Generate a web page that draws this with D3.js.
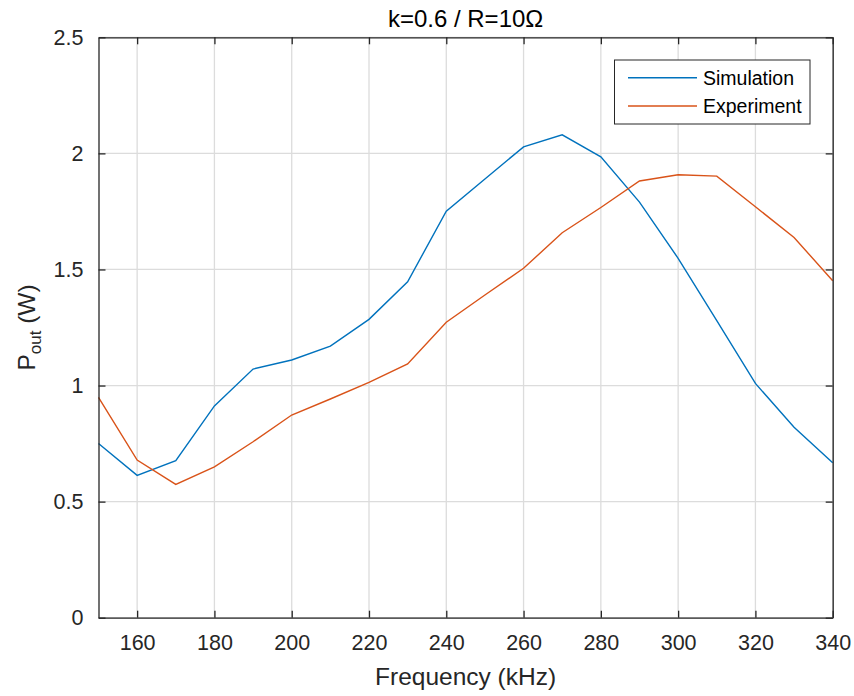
<!DOCTYPE html>
<html><head><meta charset="utf-8">
<script src="https://cdn.jsdelivr.net/npm/d3@7"></script>
<style>body{margin:0;background:#fff;} text{font-family:"Liberation Sans",Arial,sans-serif;}</style>
</head><body><svg id="c" width="854" height="696"></svg>
<script>
const freq = [150,160,170,180,190,200,210,220,230,240,250,260,270,280,290,300,310,320,330,340];
const simulation = [0.75,0.613,0.676,0.912,1.071,1.110,1.170,1.285,1.447,1.751,1.89,2.028,2.08,1.985,1.79,1.548,1.28,1.009,0.82,0.667];
const experiment = [0.949,0.679,0.574,0.650,0.758,0.873,0.942,1.014,1.093,1.273,1.39,1.505,1.658,1.767,1.881,1.908,1.902,1.77,1.638,1.451];
const xTicks = [160,180,200,220,240,260,280,300,320,340];
const yTicks = [0,0.5,1,1.5,2,2.5];
const seriesNames = ["Simulation","Experiment"];
const colors = ["#0072BD","#D95319"];

const svg = d3.select("#c");
const L=98.5, R=832.7, T=37.3, B=617.7;
const x = d3.scaleLinear().domain([150,340]).range([L,R]);
const y = d3.scaleLinear().domain([0,2.5]).range([B,T]);
const axCol="#262626";

// grid
svg.append("g").selectAll("line").data(xTicks).join("line")
  .attr("x1",d=>x(d)).attr("x2",d=>x(d)).attr("y1",T).attr("y2",B)
  .attr("stroke","#dcdcdc").attr("stroke-width",1.3);
svg.append("g").selectAll("line").data(yTicks).join("line")
  .attr("y1",d=>y(d)).attr("y2",d=>y(d)).attr("x1",L).attr("x2",R)
  .attr("stroke","#dcdcdc").attr("stroke-width",1.3);

// lines
const line = d3.line().x((d,i)=>x(freq[i])).y(d=>y(d));
[simulation,experiment].forEach((s,k)=>{
  svg.append("path").datum(s).attr("d",line).attr("fill","none")
    .attr("stroke",colors[k]).attr("stroke-width",1.4);
});

// axes
const fs = "21.5px";
const xb = svg.append("g").attr("transform",`translate(0,${B})`)
  .call(d3.axisBottom(x).tickValues(xTicks).tickSizeInner(-7).tickSizeOuter(0).tickPadding(17));
const xt = svg.append("g").attr("transform",`translate(0,${T})`)
  .call(d3.axisTop(x).tickValues(xTicks).tickSizeInner(-7).tickSizeOuter(0).tickFormat(""));
const yl = svg.append("g").attr("transform",`translate(${L},0)`)
  .call(d3.axisLeft(y).tickValues(yTicks).tickSizeInner(-7).tickSizeOuter(0).tickPadding(15).tickFormat(d3.format("")));
const yr = svg.append("g").attr("transform",`translate(${R},0)`)
  .call(d3.axisRight(y).tickValues(yTicks).tickSizeInner(-7).tickSizeOuter(0).tickFormat(""));
[xb,xt,yl,yr].forEach(g=>{
  g.select(".domain").attr("stroke",axCol).attr("stroke-width",1.3);
  g.selectAll(".tick line").attr("stroke",axCol).attr("stroke-width",1.3);
  g.selectAll("text").attr("fill",axCol).style("font-size",fs).style("font-family","'Liberation Sans',Arial,sans-serif");
});

// title
svg.append("text").attr("x",(L+R)/2).attr("y",26.5).attr("text-anchor","middle")
  .attr("fill","#000").style("font-size","24px").text("k=0.6 / R=10Ω");
// x label
svg.append("text").attr("x",(L+R)/2).attr("y",685).attr("text-anchor","middle")
  .attr("fill",axCol).style("font-size","24.5px").text("Frequency (kHz)");
// y label
const ylab = svg.append("text").attr("transform",`translate(35,${(T+B)/2}) rotate(-90)`)
  .attr("text-anchor","middle").attr("fill",axCol).style("font-size","24.5px");
ylab.append("tspan").text("P");
ylab.append("tspan").attr("dy",6).style("font-size","17px").text("out");
ylab.append("tspan").attr("dy",-6).text(" (W)");

// legend
const lg = svg.append("g");
lg.append("rect").attr("x",614.5).attr("y",60).attr("width",195.5).attr("height",64)
  .attr("fill","#fff").attr("stroke",axCol).attr("stroke-width",1);
seriesNames.forEach((n,k)=>{
  const yy = 77.7 + k*28.3;
  lg.append("line").attr("x1",628).attr("x2",697).attr("y1",yy).attr("y2",yy)
    .attr("stroke",colors[k]).attr("stroke-width",1.4);
  lg.append("text").attr("x",703).attr("y",yy+7).attr("fill","#000")
    .style("font-size","19.5px").text(n);
});
</script></body></html>
